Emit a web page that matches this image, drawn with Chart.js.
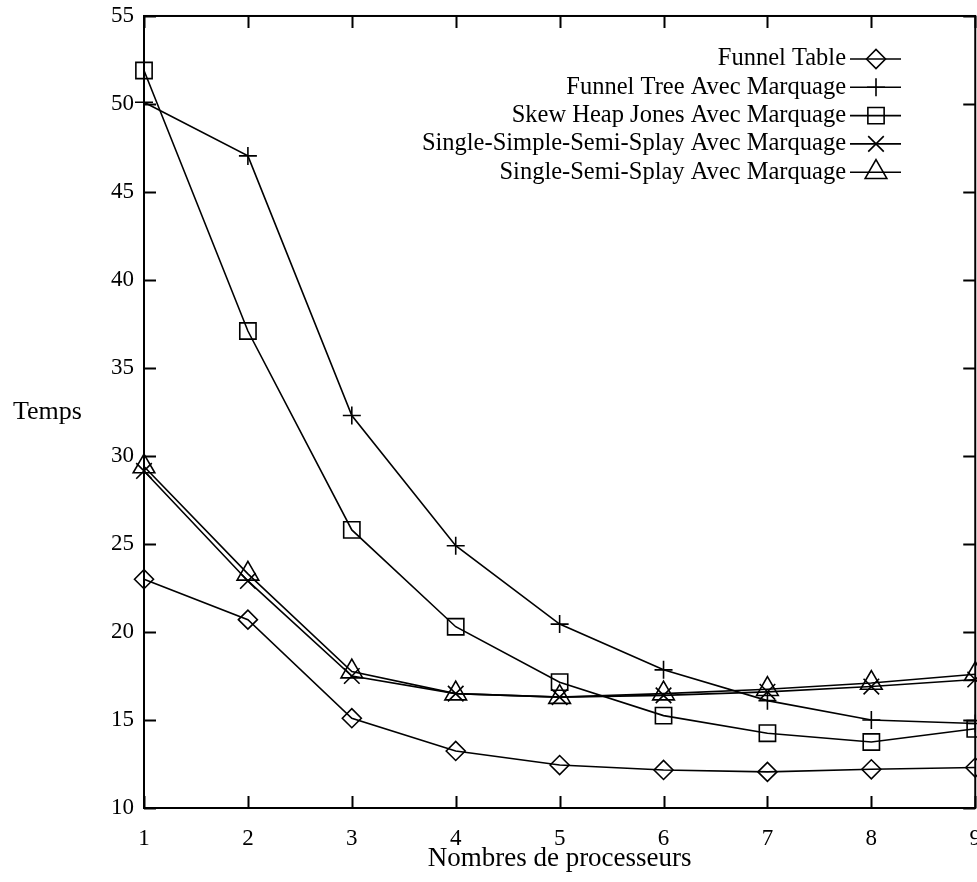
<!DOCTYPE html>
<html>
<head>
<meta charset="utf-8">
<script src="https://cdn.jsdelivr.net/npm/chart.js@4.4.1/dist/chart.umd.min.js"></script>
<style>
  html, body { margin: 0; padding: 0; background: #fff; overflow: hidden; }
  #wrap { position: absolute; left: 0; top: 0; width: 998px; height: 882px; }
</style>
</head>
<body>
<div id="wrap"><canvas id="chart"></canvas></div>
<script>
// Processor counts on the horizontal axis
const processors = ['1', '2', '3', '4', '5', '6', '7', '8', '9'];

// Measured running times for each priority-queue implementation
const funnelTable = [23.0, 20.7, 15.1, 13.24, 12.44, 12.16, 12.05, 12.2, 12.3];
const funnelTree = [50.1, 47.05, 32.3, 24.9, 20.45, 17.85, 16.1, 15.0, 14.8];
const skewHeapJones = [51.9, 37.1, 25.8, 20.3, 17.15, 15.25, 14.25, 13.75, 14.5];
const singleSimpleSemiSplay = [29.15, 22.9, 17.5, 16.5, 16.3, 16.4, 16.6, 16.9, 17.3];
const singleSemiSplay = [29.4, 23.3, 17.75, 16.5, 16.3, 16.5, 16.75, 17.1, 17.6];

const seriesNames = [
  'Funnel Table',
  'Funnel Tree Avec Marquage',
  'Skew Heap Jones Avec Marquage',
  'Single-Simple-Semi-Splay Avec Marquage',
  'Single-Semi-Splay Avec Marquage'
];
const yTicks = [10, 15, 20, 25, 30, 35, 40, 45, 50, 55];

const SERIF = '"Liberation Serif", "Times New Roman", serif';
const INK = '#000';

const markers = [
  { style: 'rectRot', radius: 9.5 },
  { style: 'cross', radius: 9 },
  { style: 'rect', radius: 11.5 },
  { style: 'crossRot', radius: 11 },
  { style: 'triangle', radius: 12.5 }
];
const seriesData = [funnelTable, funnelTree, skewHeapJones, singleSimpleSemiSplay, singleSemiSplay];

const datasets = seriesData.map((values, i) => ({
  label: seriesNames[i],
  data: values,
  borderColor: INK,
  borderWidth: 1.6,
  backgroundColor: 'transparent',
  pointStyle: markers[i].style,
  pointRadius: markers[i].radius,
  pointHoverRadius: markers[i].radius,
  pointBorderColor: INK,
  pointBackgroundColor: 'transparent',
  pointBorderWidth: 1.6,
  tension: 0,
  fill: false,
  clip: false
}));

// Closed frame with inward ticks on all four sides
const framePlugin = {
  id: 'frame',
  afterDatasetsDraw(chart) {
    const { ctx, chartArea: a, scales } = chart;
    const len = 12;
    ctx.save();
    ctx.strokeStyle = INK;
    ctx.lineWidth = 2;
    ctx.strokeRect(a.left, a.top, a.right - a.left, a.bottom - a.top);
    ctx.beginPath();
    scales.x.ticks.forEach((t, i) => {
      const px = Math.round(scales.x.getPixelForTick(i)) + 0.5;
      ctx.moveTo(px, a.bottom); ctx.lineTo(px, a.bottom - len);
      ctx.moveTo(px, a.top); ctx.lineTo(px, a.top + len);
    });
    scales.y.ticks.forEach(t => {
      const py = Math.round(scales.y.getPixelForValue(t.value)) + 0.5;
      ctx.moveTo(a.left, py); ctx.lineTo(a.left + len, py);
      ctx.moveTo(a.right, py); ctx.lineTo(a.right - len, py);
    });
    ctx.stroke();
    ctx.restore();
  }
};

// Vertical-axis caption on the left and the key in the upper right
const annotationsPlugin = {
  id: 'annotations',
  afterDraw(chart) {
    const { ctx } = chart;
    ctx.save();
    ctx.fillStyle = INK;
    ctx.font = '26px ' + SERIF;
    ctx.textAlign = 'left';
    ctx.textBaseline = 'middle';
    ctx.fillText('Temps', 13, 412);

    ctx.font = '24.5px ' + SERIF;
    const textRight = 846;
    const lineL = 850, lineR = 901, mx = 876;
    const rowY0 = 59, rowStep = 28.3;
    ctx.textAlign = 'right';
    chart.data.datasets.forEach((ds, i) => {
      const y = rowY0 + i * rowStep;
      ctx.fillStyle = INK;
      ctx.fillText(ds.label, textRight, y);
      ctx.strokeStyle = INK;
      ctx.lineWidth = 1.6;
      ctx.beginPath();
      ctx.moveTo(lineL, y); ctx.lineTo(lineR, y);
      ctx.stroke();
      ctx.fillStyle = 'rgba(0,0,0,0)';
      Chart.helpers.drawPoint(ctx, {
        pointStyle: ds.pointStyle,
        radius: ds.pointRadius,
        borderWidth: ds.pointBorderWidth,
        rotation: 0
      }, mx, y);
    });
    ctx.restore();
  }
};

new Chart(document.getElementById('chart'), {
  type: 'line',
  data: { labels: processors, datasets },
  options: {
    responsive: true,
    maintainAspectRatio: false,
    animation: false,
    events: [],
    layout: { padding: { left: 0, right: 9, top: 0, bottom: 0 } },
    plugins: {
      legend: { display: false },
      tooltip: { enabled: false }
    },
    scales: {
      x: {
        type: 'category',
        offset: false,
        grid: { display: false, drawTicks: false },
        border: { display: false },
        ticks: {
          color: INK,
          padding: 17,
          maxRotation: 0,
          autoSkip: false,
          font: { family: SERIF, size: 23 }
        },
        title: {
          display: true,
          text: 'Nombres de processeurs',
          color: INK,
          padding: { top: 0, bottom: 7 },
          font: { family: SERIF, size: 27 }
        },
        afterFit(scale) { scale.height = 74; }
      },
      y: {
        type: 'linear',
        min: 10,
        max: 55,
        afterBuildTicks(scale) { scale.ticks = yTicks.map(v => ({ value: v })); },
        grid: { display: false, drawTicks: false },
        border: { display: false },
        ticks: {
          color: INK,
          padding: 10,
          font: { family: SERIF, size: 23, lineHeight: 0.52 }
        },
        afterFit(scale) { scale.width = 144; }
      }
    }
  },
  plugins: [framePlugin, annotationsPlugin]
});
</script>
</body>
</html>
